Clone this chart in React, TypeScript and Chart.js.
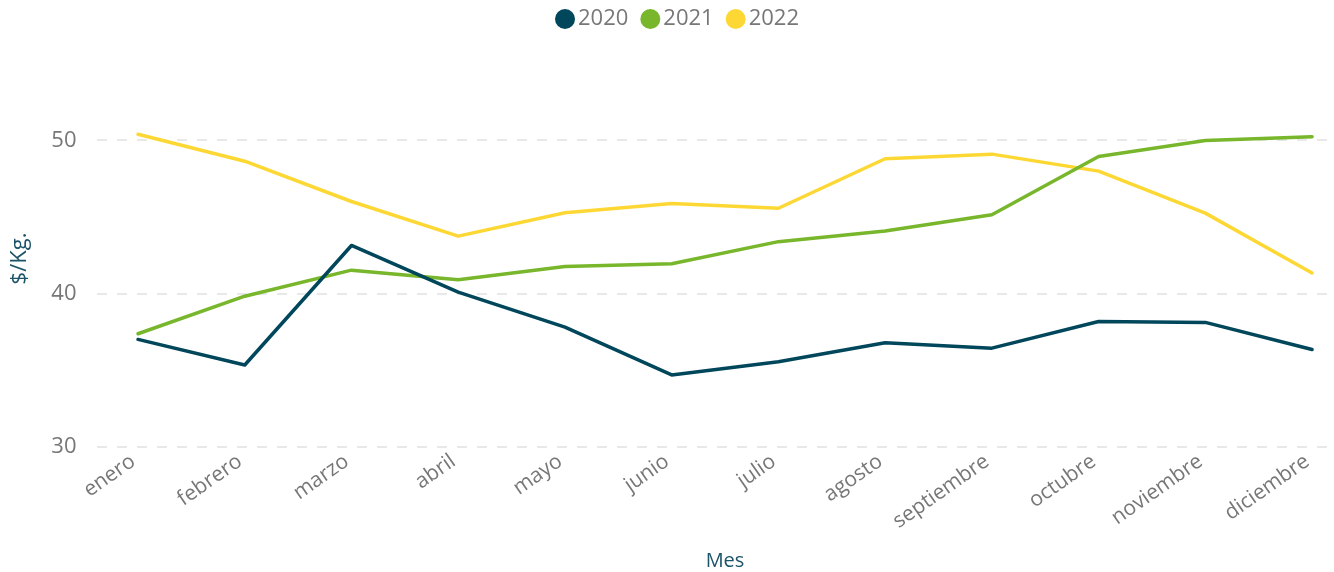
import React, { useEffect, useRef } from "react";
import { Chart, registerables } from "chart.js";

Chart.register(...registerables);

const months = ["enero", "febrero", "marzo", "abril", "mayo", "junio", "julio", "agosto", "septiembre", "octubre", "noviembre", "diciembre"];
const series2020 = [37.02, 35.35, 43.15, 40.11, 37.82, 34.7, 35.56, 36.8, 36.45, 38.19, 38.13, 36.36];
const series2021 = [37.39, 39.84, 41.54, 40.91, 41.78, 41.96, 43.4, 44.09, 45.15, 48.96, 50.0, 50.24];
const series2022 = [50.41, 48.65, 46.02, 43.76, 45.28, 45.89, 45.58, 48.81, 49.11, 48.0, 45.26, 41.36];
const yTicks = [30, 40, 50];

const FONT = "'Open Sans', 'Noto Sans', sans-serif";
const TICK_COLOR = "#777777";
const TITLE_COLOR = "#1b5468";
const LABEL_SHIFT = -0.045;

const legendPlugin = {
  id: "customLegend",
  afterDraw(chart: any) {
    const ctx = chart.ctx as CanvasRenderingContext2D;
    ctx.save();
    ctx.font = `22px ${FONT}`;
    const items = chart.data.datasets.map((d: any) => ({
      label: String(d.label),
      color: d.borderColor,
      w: ctx.measureText(String(d.label)).width,
    }));
    const r = 10, gap = 3, sep = 12;
    const total = items.reduce((s: number, it: any) => s + 2 * r + gap + it.w, 0) + sep * (items.length - 1);
    let x = 677 - total / 2;
    const y = 19;
    ctx.textBaseline = "middle";
    ctx.textAlign = "left";
    for (const it of items) {
      ctx.beginPath();
      ctx.fillStyle = it.color;
      ctx.arc(x + r, y, r, 0, Math.PI * 2);
      ctx.fill();
      ctx.fillStyle = TICK_COLOR;
      ctx.fillText(it.label, x + 2 * r + gap, y);
      x += 2 * r + gap + it.w + sep;
    }
    ctx.font = `20px ${FONT}`;
    ctx.fillStyle = TITLE_COLOR;
    ctx.textAlign = "center";
    ctx.fillText("Mes", 725, 561);
    ctx.restore();
  },
};

export default function App() {
  const ref = useRef<HTMLCanvasElement | null>(null);
  useEffect(() => {
    if (!ref.current) return;
    const mk = (vals: number[]) => vals.map((v, i) => ({ x: i, y: v }));
    const chart = new Chart(ref.current, {
      type: "line",
      data: {
        datasets: [
          { label: "2020", data: mk(series2020), borderColor: "#01475b", backgroundColor: "#01475b" },
          { label: "2021", data: mk(series2021), borderColor: "#78b62b", backgroundColor: "#78b62b" },
          { label: "2022", data: mk(series2022), borderColor: "#fdd835", backgroundColor: "#fdd835" },
        ].map((d) => ({ ...d, borderWidth: 3.5, pointRadius: 0, tension: 0, borderCapStyle: "round" as const, borderJoinStyle: "round" as const })),
      },
      plugins: [legendPlugin],
      options: {
        responsive: false,
        animation: false,
        layout: { padding: { top: 70, right: 7, left: 0, bottom: 0 } },
        plugins: {
          tooltip: { enabled: false },
          legend: { display: false },
        },
        scales: {
          x: {
            type: "linear",
            min: -0.389,
            max: 11.14,
            afterBuildTicks: (s: any) => {
              s.ticks = months.map((_, i) => ({ value: i + LABEL_SHIFT }));
            },
            afterFit: (s: any) => {
              s.height = 125;
            },
            grid: { display: false, drawTicks: false },
            border: { display: false },
            ticks: {
              autoSkip: false,
              minRotation: 35,
              maxRotation: 35,
              padding: 2,
              color: TICK_COLOR,
              font: { family: FONT, size: 21 },
              callback: (v: any) => months[Math.round(Number(v))] ?? "",
            },
            title: { display: false },
          },
          y: {
            min: 30,
            max: 54.6,
            afterBuildTicks: (s: any) => {
              s.ticks = yTicks.map((v) => ({ value: v }));
            },
            afterFit: (s: any) => {
              s.width = 96.5;
            },
            grid: { color: "#e8e8e8", lineWidth: 2, drawTicks: false },
            border: { display: false, dash: [10, 10] },
            ticks: {
              padding: 20,
              color: TICK_COLOR,
              font: { family: FONT, size: 22 },
            },
            title: {
              display: true,
              text: "$/Kg.",
              color: TITLE_COLOR,
              font: { family: FONT, size: 22 },
              padding: { top: 7, bottom: 0 },
            },
          },
        },
      },
    });
    return () => chart.destroy();
  }, []);
  return (
    <div style={{ position: "fixed", left: 0, top: 0, width: 1334, height: 572, background: "#fff" }}>
      <canvas ref={ref} width={1334} height={572} />
    </div>
  );
}
